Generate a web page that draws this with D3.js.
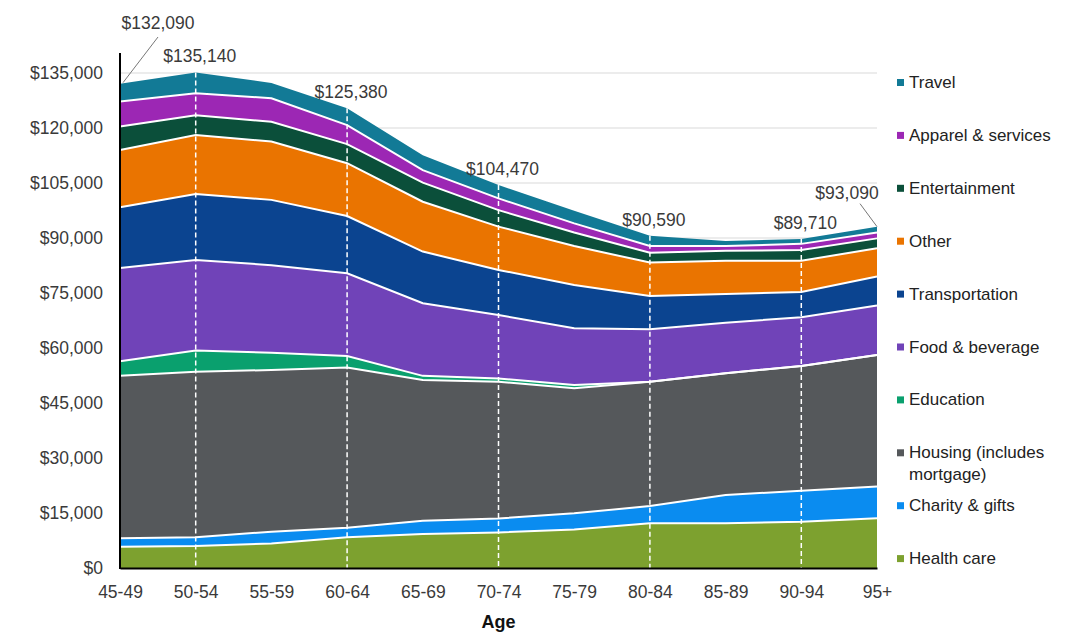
<!DOCTYPE html>
<html>
<head>
<meta charset="utf-8">
<script src="https://cdn.jsdelivr.net/npm/d3@7"></script>
<style>
  body { margin: 0; background: #fff; }
  svg { display: block; font-family: "Liberation Sans", Arial, sans-serif; }
</style>
</head>
<body>
<svg id="chart" width="1080" height="637"></svg>
<script>
// age groups on the x axis
const ages = ["45-49", "50-54", "55-59", "60-64", "65-69", "70-74", "75-79", "80-84", "85-89", "90-94", "95+"];

// spending by category, bottom of the stack first
const healthCare     = [5800, 6000, 6700, 8400, 9300, 9700, 10500, 12200, 12200, 12600, 13600];
const charityGifts   = [2300, 2400, 3200, 2600, 3600, 3800, 4400, 4700, 7700, 8500, 8600];
const housing        = [44300, 45100, 44100, 43700, 38400, 37300, 34100, 33900, 33200, 34000, 35900];
const education      = [4000, 5800, 4700, 3100, 1100, 900, 900, 0, 0, 0, 0];
const foodBeverage   = [25400, 24700, 23900, 22600, 19800, 17300, 15500, 14300, 13800, 13300, 13500];
const transportation = [16600, 18000, 17800, 15600, 14100, 12300, 11800, 9100, 7800, 6900, 7900];
const other          = [15600, 16100, 15900, 14400, 13600, 11800, 10600, 9100, 9100, 8500, 7700];
const entertainment  = [6400, 5400, 5400, 5200, 5200, 4500, 3700, 2700, 2700, 2900, 2700];
const apparel        = [6800, 6000, 6400, 5200, 3400, 3200, 2500, 1800, 1300, 1700, 1600];
const travel         = [4890, 5640, 4200, 4580, 4100, 3670, 3400, 2790, 1400, 1310, 1590];

const seriesNames = ["Health care", "Charity & gifts", "Housing (includes mortgage)", "Education",
  "Food & beverage", "Transportation", "Other", "Entertainment", "Apparel & services", "Travel"];
const seriesValues = [healthCare, charityGifts, housing, education, foodBeverage,
  transportation, other, entertainment, apparel, travel];
const seriesColors = ["#7da12f", "#0a8cf0", "#55585b", "#0aa06e", "#7043b8",
  "#0b4490", "#ea7400", "#0b4f3a", "#9c27b4", "#127a96"];

// ages that get a total label; first and last use a leader line
const labelledAges = ["45-49", "50-54", "60-64", "70-74", "80-84", "90-94", "95+"];
const dashedAges = ["50-54", "60-64", "70-74", "80-84", "90-94"];

const yTicks = d3.range(0, 135001, 15000);

const svg = d3.select("#chart");
const margin = { top: 53, left: 120, right: 203, bottom: 69 };
const width = 1080 - margin.left - margin.right;

const x = d3.scalePoint().domain(ages).range([margin.left, margin.left + width]);
const y = d3.scaleLinear().domain([0, 135000]).range([568, 73]);

// build rows for d3.stack
const rows = ages.map((age, i) => {
  const row = { age };
  seriesNames.forEach((name, s) => { row[name] = seriesValues[s][i]; });
  return row;
});
const stacked = d3.stack().keys(seriesNames)(rows);
const totals = rows.map(r => d3.sum(seriesNames, k => r[k]));

// gridlines
svg.append("g")
  .selectAll("line")
  .data(yTicks.filter(t => t > 0))
  .join("line")
  .attr("x1", x(ages[0])).attr("x2", x(ages[ages.length - 1]))
  .attr("y1", d => y(d)).attr("y2", d => y(d))
  .attr("stroke", "#d9d9d9").attr("stroke-width", 1);

const area = d3.area()
  .x(d => x(d.data.age))
  .y0(d => y(d[0]))
  .y1(d => y(d[1]));

svg.append("g")
  .selectAll("path")
  .data(stacked)
  .join("path")
  .attr("d", area)
  .attr("fill", (d, i) => seriesColors[i]);

// white separators between layers
const line = d3.line().x(d => x(d.data.age)).y(d => y(d[1]));
svg.append("g")
  .selectAll("path")
  .data(stacked.slice(0, -1))
  .join("path")
  .attr("d", line)
  .attr("fill", "none")
  .attr("stroke", "#fff")
  .attr("stroke-width", 2);

// dashed verticals
svg.append("g")
  .selectAll("line")
  .data(dashedAges)
  .join("line")
  .attr("x1", d => x(d)).attr("x2", d => x(d))
  .attr("y1", d => y(totals[ages.indexOf(d)]))
  .attr("y2", y(0))
  .attr("stroke", "#fff")
  .attr("stroke-width", 1.5)
  .attr("stroke-dasharray", "5,3");

// axes
const yAxis = svg.append("g")
  .attr("transform", `translate(${margin.left},0)`)
  .call(d3.axisLeft(y).tickValues(yTicks).tickSize(0).tickPadding(17)
    .tickFormat(d => "$" + d3.format(",")(d)));
yAxis.select(".domain").remove();
yAxis.selectAll("text").attr("font-size", 17.5).attr("fill", "#3a3a3a");

svg.append("line")
  .attr("x1", margin.left).attr("x2", margin.left)
  .attr("y1", margin.top).attr("y2", y(0) + 1)
  .attr("stroke", "#000").attr("stroke-width", 2);

const xAxis = svg.append("g")
  .attr("transform", `translate(0,${y(0)})`)
  .call(d3.axisBottom(x).tickSize(0).tickPadding(18));
xAxis.select(".domain").attr("stroke", "#000").attr("stroke-width", 2);
xAxis.selectAll("text").attr("font-size", 17.5).attr("fill", "#3a3a3a");

svg.append("text")
  .attr("x", x("70-74"))
  .attr("y", 628)
  .attr("text-anchor", "middle")
  .attr("font-size", 18)
  .attr("font-weight", "bold")
  .attr("fill", "#111")
  .text("Age");

// total labels
const fmt = d => "$" + d3.format(",")(d);
const labels = svg.append("g").attr("font-size", 17.5).attr("fill", "#3a3a3a").attr("text-anchor", "middle");
labelledAges.forEach(age => {
  const i = ages.indexOf(age);
  const px = x(age), py = y(totals[i]);
  if (i === 0) {
    labels.append("line").attr("x1", px + 3).attr("y1", py - 1).attr("x2", px + 38).attr("y2", 37)
      .attr("stroke", "#777").attr("stroke-width", 1);
    labels.append("text").attr("x", px + 38).attr("y", 29).text(fmt(totals[i]));
  } else if (i === ages.length - 1) {
    labels.append("line").attr("x1", px).attr("y1", py).attr("x2", px - 17).attr("y2", py - 23)
      .attr("stroke", "#777").attr("stroke-width", 1);
    labels.append("text").attr("x", px - 30).attr("y", py - 28).text(fmt(totals[i]));
  } else {
    labels.append("text").attr("x", px + 4).attr("y", py - 10).text(fmt(totals[i]));
  }
});

// legend, top of stack first
const legendX = 897;
const legendItems = seriesNames.map((name, i) => ({ name, color: seriesColors[i] })).reverse();
const legend = svg.append("g").attr("font-size", 17).attr("fill", "#222");
legendItems.forEach((item, k) => {
  const cy = 82 + k * 52.9;
  legend.append("rect").attr("x", legendX).attr("y", cy - 3).attr("width", 7).attr("height", 7)
    .attr("fill", item.color);
  const t = legend.append("text").attr("x", legendX + 12).attr("y", cy + 6);
  if (item.name.startsWith("Housing")) {
    t.append("tspan").attr("x", legendX + 12).text("Housing (includes");
    t.append("tspan").attr("x", legendX + 12).attr("dy", 22).text("mortgage)");
  } else {
    t.text(item.name);
  }
});
</script>
</body>
</html>
